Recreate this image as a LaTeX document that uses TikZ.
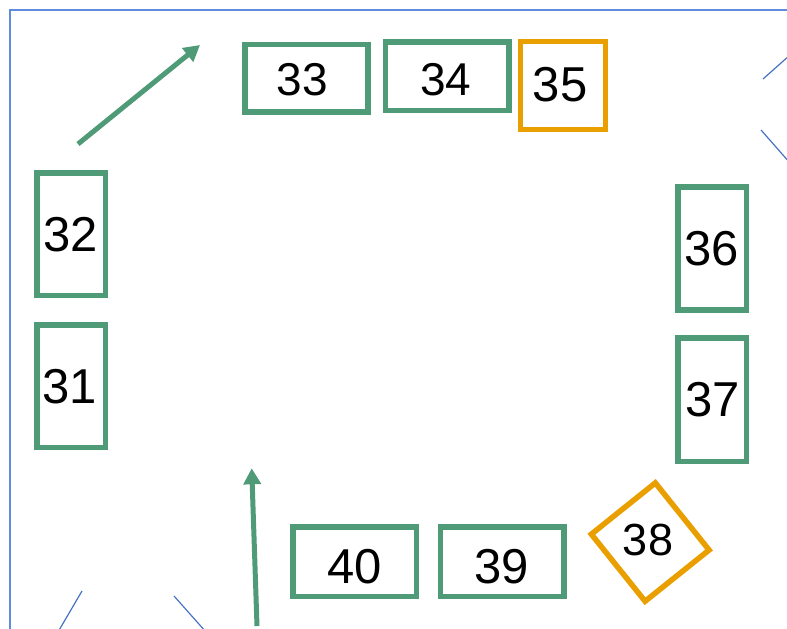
\documentclass[tikz,border=0pt]{standalone}
\usepackage{fontspec}
\setmainfont{Liberation Sans}
\usetikzlibrary{arrows.meta}
\definecolor{boxgreen}{RGB}{79,154,119}
\definecolor{boxorange}{RGB}{234,159,0}
\definecolor{framblue}{RGB}{96,140,222}
\definecolor{lineblue}{RGB}{68,114,196}
\tikzset{
  gbox/.style={draw=boxgreen, line width=5.5bp, rectangle, inner sep=0pt},
  obox/.style={draw=boxorange, line width=5.5bp, rectangle, inner sep=0pt},
  num/.style={inner sep=0pt, font=\fontsize{49bp}{51bp}\selectfont},
  numsm/.style={inner sep=0pt, font=\fontsize{46bp}{48bp}\selectfont},
  garrow/.style={draw=boxgreen, line width=5bp, -{Triangle[length=16bp,width=17bp]}},
  bline/.style={draw=lineblue, line width=1.2bp},
}
\begin{document}
\begin{tikzpicture}[x=1bp,y=-1bp]
\useasboundingbox (0,0) rectangle (787,629);
% frame
\draw[draw=framblue, line width=1.3bp] (10,640) -- (10,10) -- (800,10);
% blue corner lines
\coordinate (tr1a) at (763,79); \coordinate (tr1b) at (790,55);
\coordinate (tr2a) at (761,130); \coordinate (tr2b) at (790,163);
\coordinate (bl1a) at (82,591); \coordinate (bl1b) at (58,632);
\coordinate (bl2a) at (174,596); \coordinate (bl2b) at (206,632);
\draw[bline] (tr1a) -- (tr1b);
\draw[bline] (tr2a) -- (tr2b);
\draw[bline] (bl1a) -- (bl1b);
\draw[bline] (bl2a) -- (bl2b);
% boxes
\node[gbox, minimum width=123bp, minimum height=67.5bp] (b33) at (306.5,78.3) {};
\node[gbox, minimum width=123.5bp, minimum height=68.5bp] (b34) at (447.2,76.3) {};
\node[obox, minimum width=85bp, minimum height=88bp] (b35) at (563,85.7) {};
\node[gbox, minimum width=68.5bp, minimum height=122.5bp] (b32) at (71.2,234.2) {};
\node[gbox, minimum width=68.5bp, minimum height=122.5bp] (b31) at (71,386) {};
\node[gbox, minimum width=68.5bp, minimum height=123bp] (b36) at (712,248.5) {};
\node[gbox, minimum width=68.5bp, minimum height=123.5bp] (b37) at (712,399.5) {};
\node[gbox, minimum width=123.5bp, minimum height=69.5bp] (b40) at (354.7,561.7) {};
\node[gbox, minimum width=123.5bp, minimum height=69.5bp] (b39) at (502,561.7) {};
\node[obox, minimum width=82bp, minimum height=86bp, rotate=38.7] (b38) at (650.2,542.1) {};
% labels
\node[numsm] (t33) at (302.5,79.2) {33};
\node[numsm] (t34) at (445.8,80) {34};
\node[num] (t35) at (560,84.2) {35};
\node[num] (t32) at (70.8,235) {32};
\node[num] (t31) at (69.5,386.7) {31};
\node[num] (t36) at (711.7,248.8) {36};
\node[num] (t37) at (712.5,400) {37};
\node[num] (t40) at (354.7,566.7) {40};
\node[num] (t39) at (501.7,566.7) {39};
\node[inner sep=0pt, font=\fontsize{45bp}{47bp}\selectfont] (t38) at (648,540) {38};
% arrows
\coordinate (a1s) at (78,144); \coordinate (a1e) at (200,45);
\coordinate (a2s) at (257,626); \coordinate (a2e) at (251.7,468.3);
\draw[garrow] (a1s) -- (a1e);
\draw[garrow] (a2s) -- (a2e);
\end{tikzpicture}
\end{document}
